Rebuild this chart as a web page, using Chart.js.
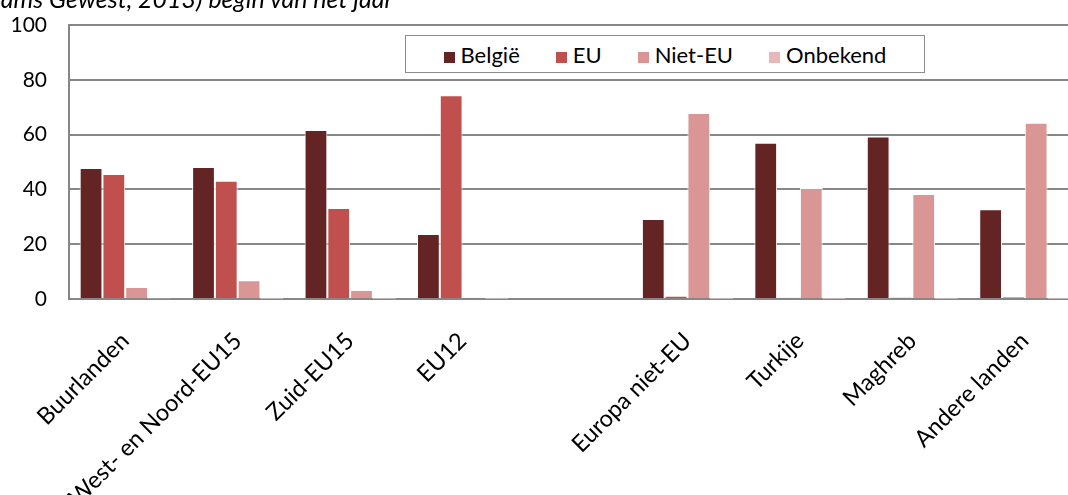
<!DOCTYPE html>
<html>
<head>
<meta charset="utf-8">
<script src="https://cdn.jsdelivr.net/npm/chart.js@4.4.1/dist/chart.umd.min.js"></script>
<style>
    body { margin: 0; overflow: hidden; background: #fff; }
    #wrap { position: relative; width: 1090px; height: 495px; font-family: Lato, "Liberation Sans", sans-serif; }
    #title { position: absolute; right: 697px; top: -14px; line-height: 25px; font-style: italic; font-size: 25px; white-space: nowrap; color: #000; }
    #legend { position: absolute; left: 405px; top: 35px; width: 518px; height: 36px; border: 1px solid #8c8c8c; background: #fff;
        display: flex; justify-content: center; align-items: center; gap: 36px; font-size: 22px; color: #000; }
    #legend span.box { display: inline-block; width: 11px; height: 11px; margin-right: 6px; }
</style>
</head>
<body>
<div id="wrap">
    <canvas id="chart"></canvas>
    <div id="title">(Vlaams Gewest, 2013) begin van het jaar</div>
    <div id="legend"></div>
</div>
<script>
const categories = ['Buurlanden', 'West- en Noord-EU15', 'Zuid-EU15', 'EU12', '', 'Europa niet-EU', 'Turkije', 'Maghreb', 'Andere landen'];
const belgie   = [47.8, 48.2, 61.7, 23.7, null, 29.2, 57.0, 59.3, 32.8];
const eu       = [45.6, 43.2, 33.2, 74.4, null, 1.2, 0.5, 0.6, 0.8];
const nietEu   = [4.4, 6.8, 3.3, 0.5, null, 67.9, 40.5, 38.3, 64.3];
const onbekend = [0.2, 0.1, 0.1, 0.1, null, 0.1, 0.1, 0.1, 0.1];
const seriesNames = ['België', 'EU', 'Niet-EU', 'Onbekend'];
const seriesColors = ['#652424', '#C0504D', '#D99694', '#E6B9B8'];
const yTicks = [0, 20, 40, 60, 80, 100];

const gridGray = '#878787';

const datasets = [belgie, eu, nietEu, onbekend].map((values, i) => ({
    label: seriesNames[i],
    data: values,
    backgroundColor: seriesColors[i],
    borderColor: '#ffffff',
    borderWidth: 1,
    borderSkipped: 'bottom',
    barPercentage: 1.0,
    categoryPercentage: 0.81
}));

const ctx = document.getElementById('chart').getContext('2d');
new Chart(ctx, {
    type: 'bar',
    data: { labels: categories, datasets: datasets },
    options: {
        responsive: true,
        maintainAspectRatio: false,
        animation: false,
        layout: { padding: { top: 25, right: 9, left: 0, bottom: 0 } },
        plugins: {
            legend: { display: false },
            tooltip: { enabled: false }
        },
        scales: {
            x: {
                grid: { display: false },
                border: { display: true, color: gridGray, width: 2 },
                ticks: {
                    color: '#000',
                    font: { family: 'Lato', size: 23.5 },
                    minRotation: 45,
                    maxRotation: 45,
                    autoSkip: false,
                    padding: 20
                },
                afterFit: scale => { scale.height = 196; }
            },
            y: {
                min: 0,
                max: 100,
                afterBuildTicks: scale => { scale.ticks = yTicks.map(v => ({ value: v })); },
                grid: { color: gridGray, lineWidth: 2, drawTicks: false },
                border: { display: true, color: gridGray, width: 2 },
                ticks: {
                    color: '#000',
                    font: { family: 'Lato', size: 21 },
                    padding: 22
                },
                afterFit: scale => {
                    scale.width = 69;
                    // tick padding would otherwise push the top of the plot down
                    scale.paddingTop = 10;
                    scale.paddingBottom = 10;
                }
            }
        }
    }
});

// legend built from the series
const legend = document.getElementById('legend');
seriesNames.forEach((name, i) => {
    const item = document.createElement('div');
    item.innerHTML = `<span class="box" style="background:${seriesColors[i]}"></span>${name}`;
    legend.appendChild(item);
});
</script>
</body>
</html>
